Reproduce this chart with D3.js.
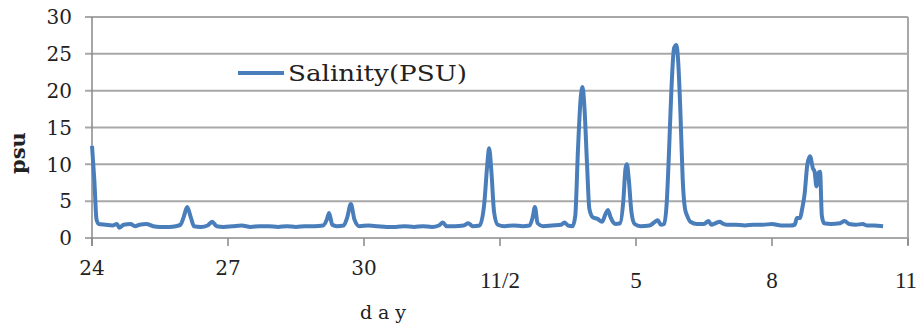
<!DOCTYPE html>
<html lang="en">
  <head>
    <meta charset="utf-8">
    <title>Salinity</title>
    <script src="https://cdnjs.cloudflare.com/ajax/libs/d3/7.8.5/d3.min.js"></script>
    <style>
      body { margin: 0; background: #fff; }
      .grid line { stroke: #a8a8a8; stroke-width: 2; }
      .lbl { font-family: "DejaVu Serif", serif; fill: #222; }
    </style>
  </head>
  <body>
    <svg width="917" height="327"></svg>
    <script>
    // days since Oct 24
    var days = [0.00,0.05,0.10,0.15,0.30,0.45,0.55,0.60,0.70,0.85,0.95,1.05,1.20,1.35,1.50,1.70,1.85,1.95,
      2.02,2.10,2.18,2.25,2.40,2.55,2.65,2.75,2.90,3.10,3.30,3.50,3.70,3.90,4.10,4.30,4.50,4.70,4.90,
      5.10,5.18,5.23,5.30,5.40,5.55,5.63,5.71,5.79,5.90,6.10,6.30,6.50,6.70,6.90,7.10,7.30,7.50,7.65,
      7.74,7.82,8.00,8.20,8.30,8.40,8.55,8.65,8.72,8.76,8.81,8.87,8.95,9.10,9.30,9.50,9.65,9.72,9.77,
      9.83,9.95,10.15,10.35,10.42,10.50,10.60,10.66,10.72,10.78,10.82,10.86,10.92,10.97,11.05,11.15,
      11.25,11.33,11.38,11.44,11.50,11.55,11.65,11.72,11.77,11.80,11.84,11.90,11.97,12.10,12.30,12.42,
      12.48,12.55,12.62,12.68,12.73,12.78,12.84,12.89,12.93,12.98,13.03,13.08,13.13,13.20,13.35,13.50,
      13.60,13.66,13.75,13.85,13.90,14.00,14.20,14.40,14.60,14.80,15.00,15.20,15.40,15.50,15.55,15.62,
      15.66,15.72,15.78,15.84,15.90,15.94,15.98,16.02,16.06,16.10,16.15,16.30,16.50,16.60,16.70,16.85,
      17.00,17.10,17.25,17.45];
    var psu = [12.5,8.0,2.5,1.9,1.8,1.7,1.9,1.4,1.8,1.9,1.6,1.8,1.9,1.6,1.5,1.5,1.6,1.8,
      2.8,4.2,2.8,1.6,1.5,1.7,2.2,1.6,1.5,1.6,1.7,1.5,1.6,1.6,1.5,1.6,1.5,1.6,1.6,
      1.7,2.5,3.4,1.8,1.6,1.7,2.8,4.6,2.5,1.6,1.7,1.6,1.5,1.5,1.6,1.5,1.6,1.5,1.7,
      2.1,1.6,1.6,1.7,2.0,1.6,1.7,4.5,10.0,12.2,9.0,3.5,1.8,1.6,1.7,1.6,1.7,2.8,4.2,
      2.0,1.6,1.7,1.8,2.1,1.7,1.6,3.0,12.0,19.0,20.5,18.0,10.0,4.0,2.8,2.6,
      2.2,3.3,3.8,2.8,2.1,1.9,2.0,5.0,9.5,10.0,8.0,3.5,1.9,1.6,1.7,2.2,
      2.4,1.8,1.9,5.0,12.0,20.0,25.8,26.2,24.0,17.0,8.0,4.0,3.0,2.2,1.9,1.9,
      2.3,1.8,2.0,2.2,2.0,1.8,1.8,1.7,1.8,1.8,1.9,1.7,1.7,1.8,2.7,2.7,
      3.8,6.0,10.0,11.1,9.5,9.0,7.0,8.8,9.0,3.0,2.0,1.9,2.0,2.3,1.9,1.8,
      1.9,1.7,1.7,1.6];

    var yTicks = [0, 5, 10, 15, 20, 25, 30];
    var xTicks = [0, 3, 6, 9, 12, 15, 18];
    var xTickLabels = ["24", "27", "30", "11/2", "5", "8", "11"];

    var svg = d3.select("svg");
    var x = d3.scaleLinear().domain([0, 18]).range([92, 908]);
    var y = d3.scaleLinear().domain([0, 30]).range([238, 17]);

    // gridlines
    var grid = svg.append("g").attr("class", "grid");
    grid.selectAll("line").data(yTicks).enter().append("line")
      .attr("x1", 85).attr("x2", 908)
      .attr("y1", function(d) { return y(d); })
      .attr("y2", function(d) { return y(d); });
    grid.append("line").attr("x1", 908).attr("x2", 908).attr("y1", y(30)).attr("y2", y(0) + 7);

    // axes lines + x ticks
    svg.append("line").attr("x1", 92).attr("x2", 92).attr("y1", y(30)).attr("y2", y(0) + 8)
      .attr("stroke", "#888").attr("stroke-width", 1.5);
    svg.selectAll(".xt").data(xTicks).enter().append("line").attr("class", "xt")
      .attr("x1", function(d) { return x(d); }).attr("x2", function(d) { return x(d); })
      .attr("y1", y(0)).attr("y2", y(0) + 8)
      .attr("stroke", "#888").attr("stroke-width", 1.5);

    // y labels
    svg.selectAll(".yl").data(yTicks).enter().append("text").attr("class", "lbl yl")
      .attr("x", 72).attr("y", function(d) { return y(d); })
      .attr("dy", "0.36em").attr("text-anchor", "end")
      .style("font-size", "20px").text(function(d) { return d; });

    // x labels: first three in one face, the Nov ones in another, lower
    svg.selectAll(".xl").data(xTicks).enter().append("text")
      .attr("class", "xl")
      .attr("x", function(d, i) { return i == 6 ? x(d) - 2 : x(d); })
      .attr("y", function(d, i) { return i < 3 ? 275 : 288; })
      .attr("text-anchor", "middle")
      .style("font-family", function(d, i) { return i < 3 ? "DejaVu Serif" : "Liberation Serif"; })
      .style("font-size", function(d, i) { return i < 3 ? "20px" : "23px"; })
      .style("fill", "#222")
      .text(function(d, i) { return xTickLabels[i]; });

    // axis titles
    svg.append("text").attr("class", "lbl")
      .attr("transform", "translate(25,153) rotate(-90)")
      .attr("text-anchor", "middle")
      .style("font-size", "21px").style("font-weight", "bold")
      .text("psu");
    svg.append("text").attr("class", "lbl")
      .attr("x", 386).attr("y", 319).attr("text-anchor", "middle")
      .style("font-size", "19px").style("letter-spacing", "6px")
      .text("day");

    // series
    var line = d3.line()
      .curve(d3.curveMonotoneX)
      .x(function(d) { return x(d[0]); })
      .y(function(d) { return y(d[1]); });
    svg.append("path")
      .datum(d3.zip(days, psu))
      .attr("fill", "none")
      .attr("stroke", "#4a7ebb")
      .attr("stroke-width", 4)
      .attr("stroke-linejoin", "round")
      .attr("d", line);

    // legend
    svg.append("line").attr("x1", 238).attr("x2", 284).attr("y1", 73).attr("y2", 73)
      .attr("stroke", "#4a7ebb").attr("stroke-width", 4);
    svg.append("text").attr("class", "lbl")
      .attr("x", 288).attr("y", 81)
      .style("font-size", "23px")
      .attr("textLength", 179).attr("lengthAdjust", "spacingAndGlyphs")
      .text("Salinity(PSU)");
    </script>
  </body>
</html>
